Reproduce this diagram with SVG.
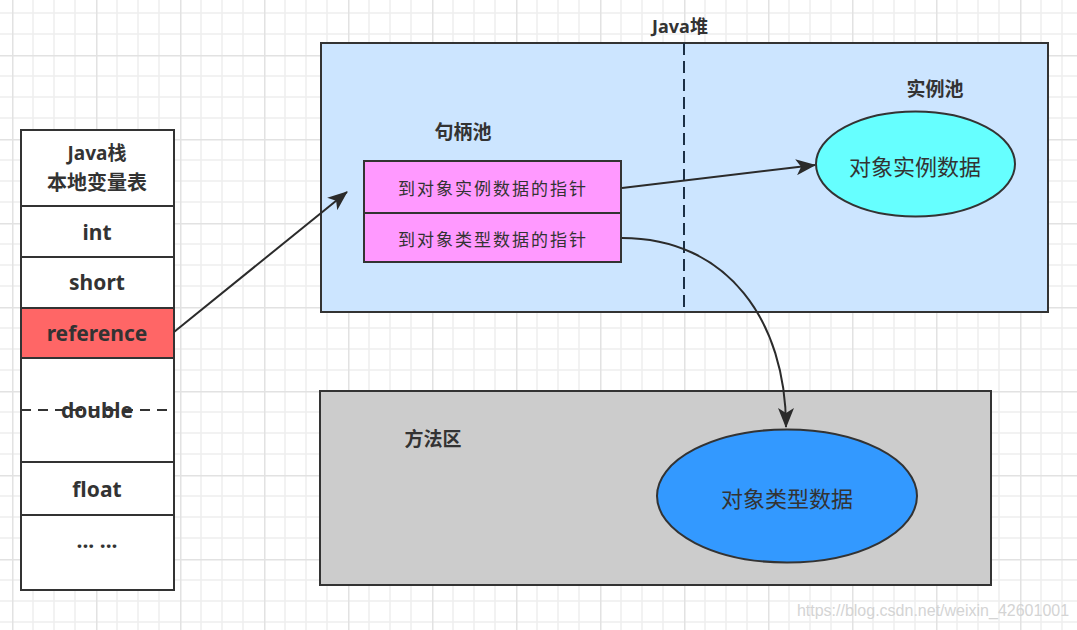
<svg xmlns="http://www.w3.org/2000/svg" width="1077" height="630" viewBox="0 0 1077 630">
  <style>
    .box { stroke: #333; stroke-width: 2; }
    .lbl { font-family: "Noto Sans", "Noto Sans CJK SC", sans-serif; fill: #333; text-anchor: middle; dominant-baseline: central; }
    .b { font-weight: bold; }
    .cn { font-family: "Noto Sans CJK SC", sans-serif; }
    .conn { fill: none; stroke: #2b2b2b; stroke-width: 2; }
  </style>
  <defs>
    <pattern id="grid" patternUnits="userSpaceOnUse" x="12" y="55" width="84" height="84">
      <path d="M21,0V84M42,0V84M63,0V84M0,21H84M0,42H84M0,63H84" stroke="#eeeeee" stroke-width="1.5" fill="none"/>
      <path d="M0.75,0V84M0,0.75H84" stroke="#e2e2e2" stroke-width="1.5" fill="none"/>
    </pattern>
    <marker id="arr" markerUnits="userSpaceOnUse" markerWidth="20" markerHeight="16" viewBox="0 0 20 16" refX="19" refY="8" orient="auto">
      <path d="M0,0 L20,8 L0,16 L5,8 z" fill="#2b2b2b"/>
    </marker>
  </defs>
  <rect width="1077" height="630" fill="#ffffff"/>
  <rect width="1077" height="630" fill="url(#grid)"/>

  <g id="java-stack">
    <rect class="box" x="21" y="130" width="153" height="460" fill="#ffffff"/>
    <line class="box" x1="21" y1="206" x2="174" y2="206"/>
    <line class="box" x1="21" y1="257" x2="174" y2="257"/>
    <rect class="box" x="21" y="308" width="153" height="50" fill="#ff6666"/>
    <line class="box" x1="21" y1="462" x2="174" y2="462"/>
    <line class="box" x1="21" y1="515" x2="174" y2="515"/>
    <line x1="21" y1="410" x2="174" y2="410" stroke="#333" stroke-width="2" stroke-dasharray="10 7"/>
    <text class="lbl b" x="97" y="153" font-size="19">Java栈</text>
    <text class="lbl b cn" x="97" y="181" font-size="20">本地变量表</text>
    <text class="lbl b" x="97" y="232" font-size="21">int</text>
    <text class="lbl b" x="97" y="282" font-size="21">short</text>
    <text class="lbl b" x="97" y="333" font-size="21">reference</text>
    <text class="lbl b" x="97" y="410" font-size="21">double</text>
    <text class="lbl b" x="97" y="489" font-size="21">float</text>
    <text class="lbl b" x="97" y="540" font-size="21">... ...</text>
  </g>

  <g id="java-heap">
    <rect class="box" x="321" y="43" width="727" height="269" fill="#cce5ff"/>
    <line x1="684" y1="43" x2="684" y2="312" stroke="#1b2f45" stroke-width="2" stroke-dasharray="12 6"/>
    <text class="lbl b" x="680" y="26" font-size="18">Java堆</text>
    <text class="lbl b cn" x="463" y="130" font-size="19">句柄池</text>
    <text class="lbl b cn" x="935" y="87" font-size="19">实例池</text>
  </g>

  <g id="handle-instance-ptr">
    <rect class="box" x="364" y="161" width="257" height="52" fill="#ff99ff"/>
    <text class="lbl cn" x="493" y="187" font-size="17" letter-spacing="2" fill="#222">到对象实例数据的指针</text>
  </g>
  <g id="handle-type-ptr">
    <rect class="box" x="364" y="213" width="257" height="49" fill="#ff99ff"/>
    <text class="lbl cn" x="493" y="238" font-size="17" letter-spacing="2" fill="#222">到对象类型数据的指针</text>
  </g>

  <g id="instance-data">
    <ellipse class="box" cx="915.5" cy="164" rx="99.5" ry="52.5" fill="#66ffff"/>
    <text class="lbl cn" x="915" y="165" font-size="22" fill="#222">对象实例数据</text>
  </g>

  <g id="method-area">
    <rect class="box" x="320" y="391" width="671" height="194" fill="#cccccc"/>
    <text class="lbl b cn" x="433" y="437" font-size="19">方法区</text>
  </g>

  <g id="type-data">
    <ellipse class="box" cx="787" cy="496" rx="130" ry="66.5" fill="#3399ff"/>
    <text class="lbl cn" x="787" y="497" font-size="22" fill="#222">对象类型数据</text>
  </g>

  <g id="connectors">
    <line class="conn" x1="174" y1="332" x2="347" y2="192" marker-end="url(#arr)"/>
    <line class="conn" x1="622" y1="188" x2="815" y2="165" marker-end="url(#arr)"/>
    <path class="conn" d="M622,238 C728,238 786,322 786,427" marker-end="url(#arr)"/>
  </g>

  <text x="933" y="610" font-family="Liberation Sans, Arial, sans-serif" font-size="16" fill="#d4d4d4" text-anchor="middle" dominant-baseline="central">https://blog.csdn.net/weixin_42601001</text>
</svg>
